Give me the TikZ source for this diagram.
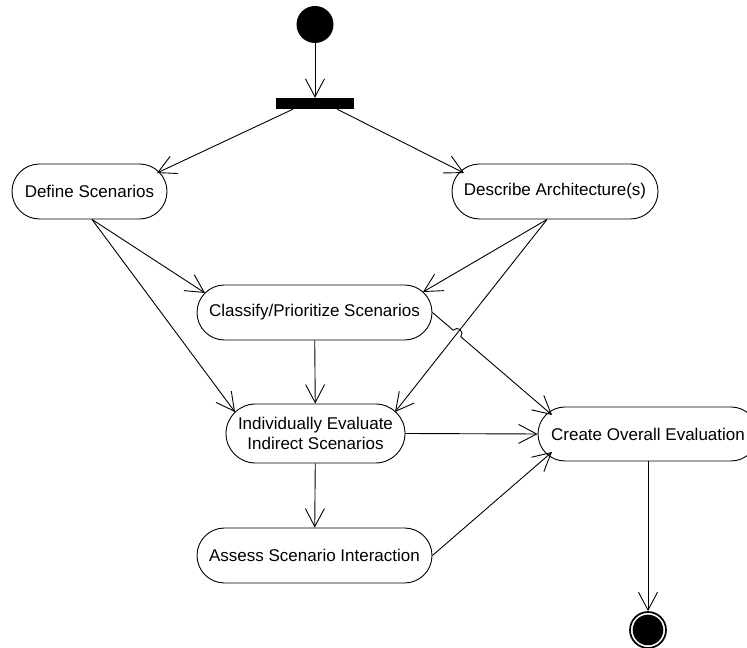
\documentclass[tikz,border=0pt]{standalone}
\usepackage{fontspec}
\setmainfont{Liberation Sans}
\usetikzlibrary{arrows.meta,shapes.misc,calc}
\begin{document}
\begin{tikzpicture}[x=1bp,y=1bp,
  act/.style={draw, line width=0.9bp, rounded rectangle, inner sep=0pt,
    minimum height=55bp, align=center,
    font=\fontsize{17bp}{20bp}\selectfont},
  flow/.style={draw, line width=0.9bp,
    -{Straight Barb[length=18bp,width=19bp,line width=0.9bp]}},
  ]
\useasboundingbox (0,0) rectangle (747,648);
\clip (0,0) rectangle (747,648);

% initial node and fork bar
\node[circle, fill=black, minimum size=37bp, inner sep=0pt] (start) at (315,623.5) {};
\node[rectangle, fill=black, minimum width=78bp, minimum height=11bp, inner sep=0pt] (bar) at (315,544.5) {};

% activities
\node[act, minimum width=155bp] (def)  at (89.5,456.5) {Define Scenarios};
\node[act, minimum width=206bp] (desc) at (555,456.5) {Describe Architecture(s)};
\node[act, minimum width=235bp] (cls)  at (314.5,335.5) {Classify/Prioritize Scenarios};
\node[act, minimum width=179bp, minimum height=59bp] (ind) at (315.5,214.5) {Individually Evaluate\\Indirect Scenarios};
\node[act, minimum width=220bp, minimum height=54bp] (cre) at (648,214) {Create Overall Evaluation};
\node[act, minimum width=235bp] (ass)  at (314.5,92.5) {Assess Scenario Interaction};

% final node
\node[circle, draw, line width=1.7bp, minimum size=36bp, inner sep=0pt] (end) at (648,18) {};
\fill (end.center) circle[radius=15.3bp];

% connector end points on the activity borders
\coordinate (bL) at ([xshift=-22bp]bar.south);
\coordinate (bR) at ([xshift=22bp]bar.south);
\coordinate (defIn)  at ([shift={(67.5,18.5)}]def.center);
\coordinate (descIn) at ([shift={(-91,18.5)}]desc.center);
\coordinate (defOut)  at ([xshift=2.5bp]def.south);
\coordinate (descOut) at ([xshift=-8bp]desc.south);
\coordinate (clsInL) at ([shift={(-109.5,19.5)}]cls.center);
\coordinate (clsInR) at ([shift={(108.5,20.5)}]cls.center);
\coordinate (indInL) at ([shift={(-80.5,21.5)}]ind.center);
\coordinate (indInR) at ([shift={(79.5,21.5)}]ind.center);
\coordinate (clsOut) at (cls.east);
\coordinate (creInT) at ([shift={(-96,19)}]cre.center);
\coordinate (creInB) at ([shift={(-96,-18)}]cre.center);
\coordinate (X) at (intersection of descOut--indInR and clsOut--creInT);

% transitions
\draw[flow] (start) -- (bar);
\draw[flow] (bL) -- (defIn);
\draw[flow] (bR) -- (descIn);
\draw[flow] (defOut) -- (clsInL);
\draw[flow] (defOut) -- (indInL);
\draw[flow] (descOut) -- (clsInR);
\draw[flow] (descOut) -- (indInR);
\draw[flow] (cls) -- (ind);
\draw[flow] let \p1=($(creInT)-(clsOut)$), \n1={atan2(\y1,\x1)} in
  (clsOut) -- ($(X)!5bp!(clsOut)$)
  arc[start angle=\n1+180, end angle=\n1, radius=5bp] -- (creInT);
\draw[flow] (ind.east) -- (cre.west);
\draw[flow] (ind) -- (ass);
\draw[flow] (ass.east) -- (creInB);
\draw[flow] (cre.south) -- (end.north);
\end{tikzpicture}
\end{document}
